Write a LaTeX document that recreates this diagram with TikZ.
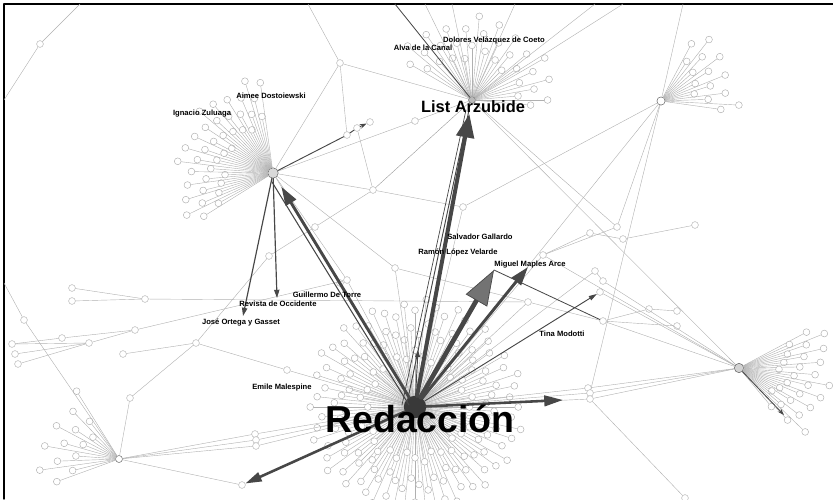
\documentclass[tikz,border=0pt]{standalone}
\usepackage{fontspec}
\setmainfont{Liberation Sans}
\usetikzlibrary{arrows.meta,calc}

\begin{document}
\begin{tikzpicture}[x=0.03cm, y=-0.03cm,
		line cap=round, line join=round,
		wire/.style={draw=gray!62, line width=0.35pt},
		leaf/.style={circle, draw=gray!62, fill=white, line width=0.4pt, inner sep=0pt, minimum size=5.8pt},
		hub/.style={circle, draw=gray!70!black, fill=gray!40, line width=0.4pt, inner sep=0pt, minimum size=#1},
		hub/.default=7pt,
		tie/.style={draw=black!72, line width=#1},
		tie/.default=0.7pt,
		lbl/.style={font=\bfseries\fontsize{6.5}{7}\selectfont, inner sep=0pt, text height=4.7pt, text depth=0pt}]

	\useasboundingbox (0,0) rectangle (833,499);
	% ---- cornice ----
	\draw[line width=1.2pt] (4,499) -- (4,4) -- (833,4);

	% ---- nodi principali ----
	\node[hub=19pt, fill=gray!45!black, draw=black!80] (red) at (415,407) {};
	\node[hub=6pt, fill=gray!55] (list) at (472,100) {};
	\node[hub=9pt, fill=gray!30] (zul) at (273,173) {};
	\node[hub=7pt, fill=white] (tr) at (661,101) {};
	\node[hub=8pt, fill=gray!35] (est) at (739,368) {};
	\node[hub=6pt, fill=white] (bl) at (119,459) {};

	% ================= ventaglio di foglie (macro) =============
	% \ventaglio{centro}{prefisso}{da}{secondo}{a}{r min}{r max}
	\newcommand{\ventaglio}[7]{%
		\foreach \a [count=\i] in {#3,#4,...,#5} {
			\pgfmathsetmacro{\rag}{#6+(#7-#6)*mod(\i*7,11)/10}
			\node[leaf] (#2\i) at ($(#1)+(\a:\rag)$) {};
			\draw[wire] (#1) -- (#2\i);
		}}

	\ventaglio{list}{l}{-150}{-145}{5}{42}{84}
	\ventaglio{zul}{z}{148}{151}{262}{48}{96}
	\ventaglio{tr}{t}{-62}{-57}{10}{34}{78}
	\ventaglio{est}{e}{-28}{-25}{50}{40}{92}
	\ventaglio{bl}{b}{160}{166}{238}{34}{80}
	\ventaglio{red}{ra}{0}{6}{354}{92}{108}
	\ventaglio{red}{rb}{3}{9}{357}{68}{84}
	\ventaglio{red}{rc}{0}{10}{350}{46}{58}

	% ---- estremi liberi sul bordo ----
	\coordinate (f1) at (80,4);
	\coordinate (f2) at (4,100);
	\coordinate (f3) at (308,4);
	\coordinate (f4) at (395,4);
	\coordinate (f5) at (683,4);
	\coordinate (f6) at (595,4);
	\coordinate (f7) at (623,4);
	\coordinate (f8) at (4,283);
	\coordinate (f9) at (425,4);
	\coordinate (f10) at (452,4);
	\coordinate (f11) at (515,4);

	% ---- nodi intermedi ----
	\node[leaf] (m1) at (40,44) {};
	\node[leaf] (m2) at (340,63) {};
	\node[leaf] (m3) at (373,190) {};
	\node[leaf] (m4) at (463,207) {};
	\node[leaf] (m5) at (315,227) {};
	\node[leaf] (m6) at (347,135) {};
	\node[leaf] (m7) at (357,128) {};
	\node[leaf] (m8) at (370,122) {};
	\node[leaf] (m9) at (415,121) {};
	\node[leaf] (m10) at (590,233) {};
	\node[leaf] (m11) at (617,227) {};
	\node[leaf] (m12) at (623,239) {};
	\node[leaf] (m13) at (695,225) {};
	\node[leaf] (m14) at (595,271) {};
	\node[leaf] (m15) at (603,281) {};
	\node[leaf] (m16) at (600,292) {};
	\node[leaf] (m17) at (603,321) {};
	\node[leaf] (m18) at (649,309) {};
	\node[leaf] (m19) at (677,311) {};
	\node[leaf] (m20) at (677,326) {};
	\node[leaf] (m21) at (588,388) {};
	\node[leaf] (m22) at (590,393) {};
	\node[leaf] (m23) at (590,399) {};
	\node[leaf] (m24) at (685,498) {};
	\node[leaf] (m25) at (395,268) {};
	\node[leaf] (m26) at (543,255) {};
	\node[leaf] (m27) at (528,302) {};
	\node[leaf] (m28) at (287,370) {};
	\node[leaf] (m29) at (340,283) {};
	\node[leaf] (m30) at (347,280) {};

	\node[leaf] (s1) at (72,288) {};
	\node[leaf] (s2) at (72,301) {};
	\node[leaf] (s3) at (145,299) {};
	\node[leaf] (s4) at (24,320) {};
	\node[leaf] (s5) at (135,330) {};
	\node[leaf] (s6) at (62,338) {};
	\node[leaf] (s7) at (89,343) {};
	\node[leaf] (s8) at (12,344) {};
	\node[leaf] (s9) at (15,354) {};
	\node[leaf] (s10) at (18,364) {};
	\node[leaf] (s11) at (123,354) {};
	\node[leaf] (s12) at (196,343) {};
	\node[leaf] (s13) at (130,398) {};
	\node[leaf] (s14) at (255,434) {};
	\node[leaf] (s15) at (256,440) {};
	\node[leaf] (s16) at (256,446) {};
	\node[leaf] (s17) at (242,485) {};
	\node[leaf] (s18) at (269,256) {};

	% ---- collegamenti sottili ----
	\draw[wire] (f1) -- (m1) -- (f2);
	\draw[wire] (f3) -- (m2) -- (zul);
	\draw[wire] (m2) -- (list);
	\draw[wire] (m2) -- (m6);
	\draw[wire] (zul) -- (m3) -- (m4) -- (tr);
	\draw[wire] (m3) -- (m7);
	\draw[wire] (m3) -- (m5) -- (s18) -- (s12) -- (s13) -- (bl);
	\draw[wire] (zul) -- (m9) -- (list);
	\draw[wire, draw=gray!80] (m3) -- (list);
	\draw[wire] (list) -- (m11);
	\draw[wire] (list) -- (est);
	\draw[wire] (list) -- (f6);
	\draw[wire] (list) -- (f7);
	\draw[wire] (list) -- (f9);
	\draw[wire] (list) -- (f10);
	\draw[wire] (list) -- (f11);
	\draw[wire] (tr) -- (f5);
	\draw[wire] (tr) -- (m11);
	\draw[wire] (tr) -- (m22);
	\draw[wire] (tr) -- (red);
	\draw[wire] (m26) -- (m10);
	\draw[wire] (m26) -- (m11);
	\draw[wire] (m26) -- (est);
	\draw[wire] (m10) -- (m12) -- (m13);
	\draw[wire] (m15) -- (m14);
	\draw[wire] (est) -- (m15);
	\draw[wire] (est) -- (m16);
	\draw[wire] (est) -- (m17);
	\draw[wire] (m17) -- (m18) -- (m19);
	\draw[wire] (m17) -- (m20);
	\draw[wire] (m27) -- (m17);
	\draw[wire] (m27) -- (m25);
	\draw[wire] (est) -- (m21) -- (red);
	\draw[wire] (est) -- (m22) -- (red);
	\draw[wire] (est) -- (m23) -- (red);
	\draw[wire] (m23) -- (m24);
	\draw[wire] (red) -- (m25) -- (zul);
	\draw[wire] (red) -- (m4);
	\draw[wire] (red) -- (m26);
	\draw[wire] (red) -- (m27);
	\draw[wire] (red) -- (m14);
	\draw[wire] (zul) -- (m29) -- (red);
	\draw[wire] (zul) -- (m30) -- (red);
	\draw[wire] (s1) -- (s3);
	\draw[wire] (s2) -- (s3) -- (m27);
	\draw[wire] (f8) -- (s4) -- (bl);
	\draw[wire] (s8) -- (s7);
	\draw[wire] (s9) -- (s7);
	\draw[wire] (s10) -- (s7);
	\draw[wire] (s8) -- (s6) -- (s5) -- (m30);
	\draw[wire] (s7) -- (s5);
	\draw[wire] (s11) -- (s12);
	\draw[wire] (s12) -- (m28) -- (red);
	\draw[wire] (bl) -- (s14) -- (red);
	\draw[wire] (bl) -- (s15) -- (red);
	\draw[wire] (bl) -- (s16) -- (red);
	\draw[wire] (bl) -- (s17);

	% ---- estremi delle frecce ----
	\coordinate (ma1) at (494,270);
	\coordinate (ma2) at (528,267);
	\coordinate (eh) at (563,400);
	\coordinate (up) at (418,350);
	\coordinate (rv) at (277,298);
	\coordinate (jo) at (243,316);
	\coordinate (ex) at (784,415);

	% ---- legami scuri ----
	\draw[tie] (f4) -- (list);
	\draw[tie=0.8pt, -{Stealth[length=6pt,width=4pt]}] (zul) -- (m6) -- (m7) -- (m8);
	\draw[tie=1pt, -{Triangle[length=7pt,width=4.5pt]}] (zul) -- (rv);
	\draw[tie=1pt, -{Triangle[length=7pt,width=4.5pt]}] (zul) -- (jo);
	\draw[tie] (ma1) -- (m17);
	\draw[tie, -{Stealth[length=6pt,width=4pt]}] (est) -- (ex);

	% ---- frecce spesse da Redaccion ----
	\draw[tie=0.8pt] ($(red)+(-8,-4)$) -- ($(list)+(-3,10)$);
	\draw[tie=0.6pt] ($(red)+(-13,-2)$) -- ($(list)+(-6,10)$);
	\draw[tie=3.4pt, -{Triangle[length=20pt,width=15pt]}, shorten >=9pt] (red) -- (list);
	\draw[tie=0.9pt] ($(red)+(-6,-2)$) -- ($(zul)+(-1,9)$);
	\draw[tie=2.5pt, -{Triangle[length=16pt,width=10pt]}, shorten >=9pt] (red) -- (zul);
	\draw[tie=4pt, -{Triangle[length=30pt,width=21pt,fill=black!55,line width=0.6pt]}] (red) -- (ma1);
	\draw[tie=2.5pt, -{Triangle[length=16pt,width=10pt]}] (red) -- (ma2);
	\draw[tie=0.8pt, -{Triangle[length=7pt,width=4pt]}] (red) -- (m16);
	\draw[tie=2.2pt, -{Triangle[length=16pt,width=9pt]}] (red) -- (eh);
	\draw[tie=2.2pt, -{Triangle[length=14pt,width=8pt]}] (red) -- (s17);
	\draw[tie=0.8pt, -{Triangle[length=6pt,width=4pt]}] (red) -- (up);

	% ---- etichette ----
	\node[lbl] (dolores) at (494,40) {Dolores Velázquez de Coeto};
	\node[lbl] (alva) at (423,48) {Alva de la Canal};
	\node[lbl] (aimee) at (271,96) {Aimee Dostoiewski};
	\node[lbl] (ignacio) at (202,113) {Ignacio Zuluaga};
	\node[lbl] (salvador) at (480,237) {Salvador Gallardo};
	\node[lbl] (ramon) at (458,252) {Ramón López Velarde};
	\node[lbl] (maples) at (530,264) {Miguel Maples Arce};
	\node[lbl] (tina) at (562,334) {Tina Modotti};
	\node[lbl] (guillermo) at (327,295) {Guillermo De Torre};
	\node[lbl] (revista) at (278,304) {Revista de Occidente};
	\node[lbl] (ortega) at (241,322) {José Ortega y Gasset};
	\node[lbl] (emile) at (282,387) {Emile Malespine};
	\node[font=\bfseries\fontsize{14}{16}\selectfont, inner sep=0pt] (listlbl) at (473,107) {List Arzubide};
	\node[font=\bfseries\fontsize{32}{34}\selectfont, inner sep=0pt] (redlbl) at (420,419) {Redacción};

\end{tikzpicture}
\end{document}
